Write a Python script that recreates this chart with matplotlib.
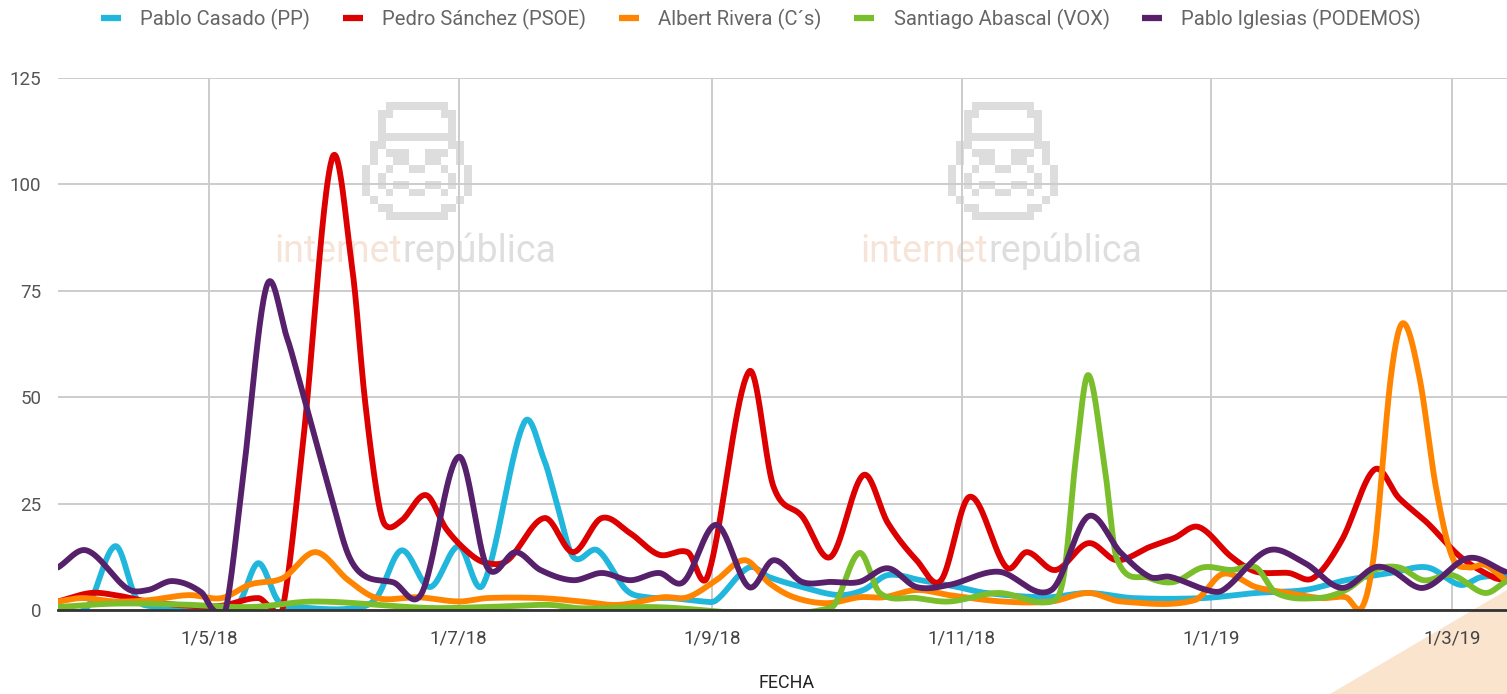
import matplotlib
matplotlib.use("Agg")
import matplotlib.pyplot as plt
import matplotlib.dates as mdates
from matplotlib.lines import Line2D
from matplotlib.patches import Polygon
import numpy as np
from datetime import datetime

plt.rcParams['font.family'] = ['Roboto', 'DejaVu Sans']

# values (date, mentions)
casado_dates = ["2018-03-25", "2018-04-01", "2018-04-08", "2018-04-13", "2018-04-16", "2018-04-26",
                "2018-05-08", "2018-05-13", "2018-05-18", "2018-05-25", "2018-06-06", "2018-06-11",
                "2018-06-17", "2018-06-24", "2018-07-01", "2018-07-07", "2018-07-17", "2018-07-22",
                "2018-07-25", "2018-07-29", "2018-08-04", "2018-08-11", "2018-08-16", "2018-08-22",
                "2018-08-30", "2018-09-02", "2018-09-10", "2018-09-15", "2018-09-23", "2018-10-02",
                "2018-10-08", "2018-10-14", "2018-10-22", "2018-10-31", "2018-11-07", "2018-11-22",
                "2018-12-02", "2018-12-13", "2018-12-30", "2019-01-12", "2019-01-24", "2019-02-03",
                "2019-02-14", "2019-02-23", "2019-03-03", "2019-03-08", "2019-03-14"]
casado_vals = [1, 0.5, 15, 3, 1, 1,
               1.5, 11, 2, 0.5, 0.5, 3,
               14, 5.4, 15, 6, 44, 35,
               25, 12.5, 14, 4.7, 3, 2.8,
               2, 2.3, 10, 7.7, 5.4, 3.5,
               4.7, 8.2, 7, 5.4, 4, 3,
               4, 2.8, 2.8, 4, 4.7, 7,
               8.7, 10, 5.9, 7.7, 8]

sanchez_dates = ["2018-03-25", "2018-04-02", "2018-04-08", "2018-04-16", "2018-04-26", "2018-05-04",
                 "2018-05-13", "2018-05-16", "2018-05-19", "2018-05-24", "2018-05-31", "2018-06-05",
                 "2018-06-08", "2018-06-11", "2018-06-13", "2018-06-17", "2018-06-23", "2018-06-28",
                 "2018-07-04", "2018-07-08", "2018-07-13", "2018-07-22", "2018-07-29", "2018-08-05",
                 "2018-08-12", "2018-08-19", "2018-08-26", "2018-08-31", "2018-09-10", "2018-09-16",
                 "2018-09-23", "2018-09-30", "2018-10-08", "2018-10-14", "2018-10-21", "2018-10-27",
                 "2018-11-03", "2018-11-12", "2018-11-17", "2018-11-24", "2018-12-02", "2018-12-09",
                 "2018-12-17", "2018-12-23", "2018-12-29", "2019-01-06", "2019-01-12", "2019-01-20",
                 "2019-01-26", "2019-02-02", "2019-02-10", "2019-02-16", "2019-02-23", "2019-03-03",
                 "2019-03-11", "2019-03-14"]
sanchez_vals = [2, 4, 3.5, 2, 1, 1,
                2.8, 0.7, 0.5, 40, 106, 80,
                50, 27.5, 20, 21, 27, 19,
                13, 11, 11.7, 21.6, 13.6, 21.6,
                18, 13, 13.6, 8.2, 56, 29,
                22, 12.5, 31.7, 20.4, 11.7, 7,
                26.6, 10, 13.6, 9.4, 15.7, 11.7,
                14.8, 16.9, 19.5, 12.5, 9, 8.7,
                7.5, 16.4, 33, 26.3, 20.4, 12.5,
                7.7, 7]

rivera_dates = ["2018-03-25", "2018-03-31", "2018-04-08", "2018-04-16", "2018-04-26", "2018-05-04",
                "2018-05-11", "2018-05-19", "2018-05-27", "2018-06-04", "2018-06-11", "2018-06-21",
                "2018-07-01", "2018-07-08", "2018-07-21", "2018-07-31", "2018-08-09", "2018-08-20",
                "2018-08-26", "2018-09-02", "2018-09-09", "2018-09-15", "2018-09-21", "2018-09-29",
                "2018-10-07", "2018-10-13", "2018-10-21", "2018-10-29", "2018-11-11", "2018-11-23",
                "2018-12-02", "2018-12-10", "2018-12-28", "2019-01-04", "2019-01-12", "2019-01-20",
                "2019-01-28", "2019-02-03", "2019-02-07", "2019-02-10", "2019-02-14", "2019-02-17",
                "2019-02-21", "2019-02-25", "2019-03-01", "2019-03-05", "2019-03-09", "2019-03-14"]
rivera_vals = [2, 2.8, 2, 2.3, 3.5, 2.8,
               6, 7.5, 13.6, 7, 2.8, 3,
               2, 2.8, 2.8, 2, 1.2, 3,
               3, 7, 11.7, 6.3, 3, 1.6,
               3, 3, 4.7, 3.5, 2, 2,
               4, 2, 2.3, 8.5, 5.4, 4,
               2.8, 3, 0.7, 14, 54.7, 67.4,
               54.7, 29, 12.5, 10, 10.6, 7]

abascal_dates = ["2018-03-25", "2018-04-08", "2018-04-24", "2018-05-11", "2018-05-27", "2018-06-23",
                 "2018-07-08", "2018-07-23", "2018-07-31", "2018-08-16", "2018-09-30", "2018-10-07",
                 "2018-10-12", "2018-10-21", "2018-10-29", "2018-11-10", "2018-11-23", "2018-11-26",
                 "2018-11-29", "2018-12-02", "2018-12-06", "2018-12-09", "2018-12-17", "2018-12-23",
                 "2018-12-30", "2019-01-06", "2019-01-12", "2019-01-17", "2019-01-27", "2019-02-03",
                 "2019-02-10", "2019-02-16", "2019-02-22", "2019-03-01", "2019-03-09", "2019-03-14"]
abascal_vals = [0.7, 1.5, 1.3, 0.7, 2, 0.5,
                0.7, 1.2, 0.4, 0.7, 0.5, 13.4,
                4, 2.8, 2, 4, 2, 8,
                36, 55.2, 33.6, 12, 7.5, 6.6,
                10, 9.4, 10, 4, 2.8, 4.7,
                9.4, 10, 7, 8.2, 4, 6.6]

iglesias_dates = ["2018-03-25", "2018-04-01", "2018-04-11", "2018-04-16", "2018-04-22", "2018-04-29",
                  "2018-05-02", "2018-05-05", "2018-05-09", "2018-05-15", "2018-05-20", "2018-05-23",
                  "2018-05-27", "2018-05-31", "2018-06-04", "2018-06-08", "2018-06-15", "2018-06-22",
                  "2018-07-01", "2018-07-08", "2018-07-15", "2018-07-21", "2018-07-29", "2018-08-05",
                  "2018-08-12", "2018-08-19", "2018-08-25", "2018-09-02", "2018-09-10", "2018-09-16",
                  "2018-09-23", "2018-09-30", "2018-10-07", "2018-10-14", "2018-10-21", "2018-10-29",
                  "2018-11-10", "2018-11-23", "2018-12-02", "2018-12-10", "2018-12-17", "2018-12-22",
                  "2018-12-31", "2019-01-04", "2019-01-15", "2019-01-24", "2019-02-02", "2019-02-10",
                  "2019-02-14", "2019-02-22", "2019-03-05", "2019-03-14"]
iglesias_vals = [10, 14, 5, 4.7, 6.8, 4.2,
                 0, 0, 29, 76, 64, 54,
                 40, 26, 13, 8, 6.5, 4,
                 36, 10, 13.6, 9.4, 7, 8.7,
                 7, 8.7, 6.6, 20, 5.4, 11.7,
                 6.6, 6.6, 6.6, 9.8, 5.4, 5.9,
                 9, 4.7, 22, 13.4, 7.8, 7.8,
                 4.7, 4.7, 14, 11, 5.2, 10,
                 9.4, 5.2, 12.2, 9]

labels = ["Pablo Casado (PP)", "Pedro Sánchez (PSOE)", "Albert Rivera (C´s)",
          "Santiago Abascal (VOX)", "Pablo Iglesias (PODEMOS)"]
colors = ["#21B6DC", "#DC0000", "#FF8500", "#7BBE2B", "#57206B"]
series = [(casado_dates, casado_vals), (sanchez_dates, sanchez_vals), (rivera_dates, rivera_vals),
          (abascal_dates, abascal_vals), (iglesias_dates, iglesias_vals)]

y_ticks = [0, 25, 50, 75, 100, 125]
x_ticks = ["2018-05-01", "2018-07-01", "2018-09-01", "2018-11-01", "2019-01-01", "2019-03-01"]


def smooth(xs, ys, n=40):
    # cubic hermite through the points, like the "function" curve of the original
    xs = np.asarray(xs, float)
    ys = np.asarray(ys, float)
    m = np.empty_like(ys)
    m[1:-1] = (ys[2:] - ys[:-2]) / (xs[2:] - xs[:-2])
    m[0] = (ys[1] - ys[0]) / (xs[1] - xs[0])
    m[-1] = (ys[-1] - ys[-2]) / (xs[-1] - xs[-2])
    px, py = [], []
    t = np.linspace(0, 1, n, endpoint=False)
    for i in range(len(xs) - 1):
        h = xs[i + 1] - xs[i]
        h00 = 2 * t**3 - 3 * t**2 + 1
        h10 = t**3 - 2 * t**2 + t
        h01 = -2 * t**3 + 3 * t**2
        h11 = t**3 - t**2
        px.append(xs[i] + t * h)
        py.append(h00 * ys[i] + h10 * h * m[i] + h01 * ys[i + 1] + h11 * h * m[i + 1])
    px.append([xs[-1]])
    py.append([ys[-1]])
    return np.concatenate(px), np.concatenate(py)


def to_num(ds):
    return mdates.date2num([datetime.strptime(d, "%Y-%m-%d") for d in ds])


fig = plt.figure(figsize=(15.07, 6.94), dpi=100)
ax = fig.add_axes([58 / 1507, 1 - 610 / 694, 1 - 58 / 1507, 532 / 694])

# bottom-right decoration
fig.add_artist(Polygon([(1330 / 1507, 0), (1, 0), (1, 1 - 590 / 694)], closed=True,
                       transform=fig.transFigure, facecolor="#FBE4CE", edgecolor="none", zorder=-1))
ax.set_zorder(1)
ax.patch.set_alpha(0)

# watermark
helmet = [
    "...########...",
    "..##......##..",
    "..#........#..",
    "..#........#..",
    "..##########..",
    ".##........##.",
    ".#.###..###.#.",
    ".#..##..##..#.",
    "#..#..##..#..#",
    "#.#........#.#",
    "#.#.##..##.#.#",
    "#..#..##..#..#",
    ".#..........#.",
    "..##......##..",
    "...########...",
]
mask = np.array([[c == "#" for c in r] for r in helmet])
img = np.ones(mask.shape + (4,))
img[..., :3] = 0.87
img[..., 3] = mask.astype(float)
for cx in (417, 1003):
    x0 = (cx - 55 - 58) / 1449
    x1 = (cx + 55 - 58) / 1449
    ax.imshow(img, extent=(x0, x1, (610 - 220) / 532, (610 - 102) / 532), transform=ax.transAxes,
              aspect="auto", interpolation="nearest", zorder=0.2)
    split = (cx - 15 - 58) / 1449
    ax.text(split, (610 - 262) / 532, "internet", transform=ax.transAxes, ha="right", va="baseline",
            fontsize=27, color="#F6E4D8", zorder=0.3)
    ax.text(split, (610 - 262) / 532, "república", transform=ax.transAxes, ha="left", va="baseline",
            fontsize=27, color="#DEDEDE", zorder=0.3)

for (ds, vs), c, lab in zip(series, colors, labels):
    sx, sy = smooth(to_num(ds), vs)
    ax.plot(sx, sy, color=c, lw=4.2, solid_capstyle="round", solid_joinstyle="round", zorder=3, label=lab)

xmin = mdates.date2num(datetime(2018, 3, 25))
xmax = mdates.date2num(datetime(2019, 3, 14, 10))
ax.set_xlim(xmin, xmax)
ax.set_ylim(0, 125)

ax.set_yticks(y_ticks)
ax.set_yticklabels([str(v) for v in y_ticks])
tick_nums = to_num(x_ticks)
ax.set_xticks(tick_nums)
ax.set_xticklabels([f"{d.day}/{d.month}/{d.year % 100}" for d in mdates.num2date(tick_nums)])

ax.grid(True, color="#CCCCCC", lw=1.4, zorder=1)
ax.set_axisbelow(True)
ax.tick_params(axis="both", length=0, labelsize=13.5, colors="#555555")
ax.tick_params(axis="y", pad=12)
ax.tick_params(axis="x", pad=14, colors="#444444")
for s in ("top", "right", "left"):
    ax.spines[s].set_visible(False)
ax.spines["bottom"].set_color("#333333")
ax.spines["bottom"].set_linewidth(2)
ax.spines["bottom"].set_zorder(4)

fig.text(787 / 1507, 1 - 683 / 694, "FECHA", ha="center", va="center", fontsize=13, color="#222222")

handles = [Line2D([0], [0], color=c, lw=4.5, solid_capstyle="butt") for c in colors]
fig.legend(handles, labels, loc="center", bbox_to_anchor=(761 / 1507, 1 - 19 / 694), ncol=5,
           frameon=False, fontsize=14.6, handlelength=1.0, handletextpad=0.95, columnspacing=1.6,
           labelcolor="#666666")

fig.savefig("out.png", dpi=100)
